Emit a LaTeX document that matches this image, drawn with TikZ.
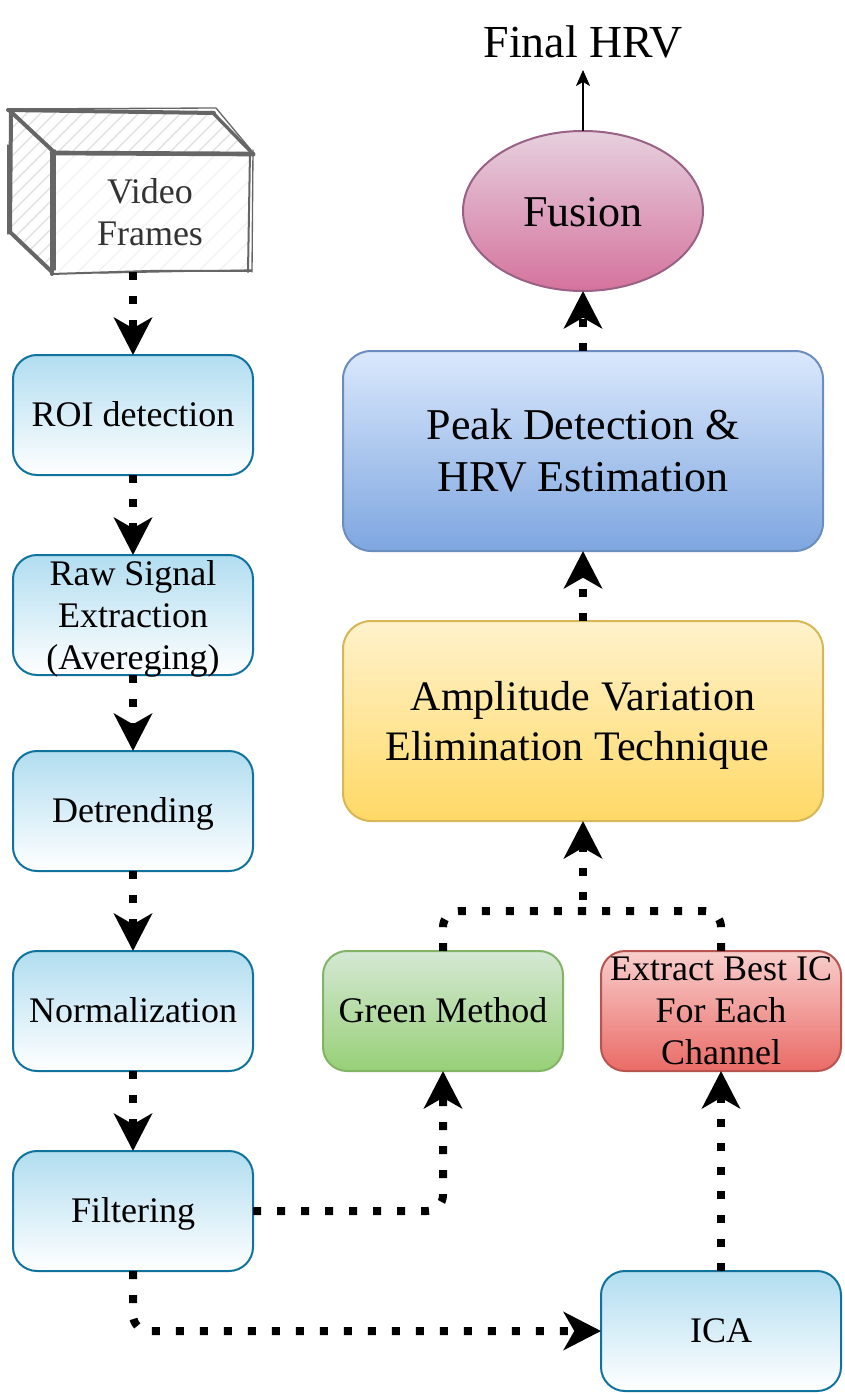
\documentclass[tikz,border=0pt]{standalone}
\usepackage{fontspec}
\setmainfont{Liberation Serif}
\usetikzlibrary{arrows.meta,shapes.geometric}

\definecolor{stepline}{HTML}{10739E}
\definecolor{steptop}{HTML}{B1DDF0}
\definecolor{greenline}{HTML}{82B366}
\definecolor{greentop}{HTML}{D5E8D4}
\definecolor{greenbot}{HTML}{97D077}
\definecolor{redline}{HTML}{B85450}
\definecolor{redtop}{HTML}{F8CECC}
\definecolor{redbot}{HTML}{EA6B66}
\definecolor{ampline}{HTML}{D6B656}
\definecolor{amptop}{HTML}{FFF2CC}
\definecolor{ampbot}{HTML}{FFD966}
\definecolor{peakline}{HTML}{6C8EBF}
\definecolor{peaktop}{HTML}{DAE8FC}
\definecolor{peakbot}{HTML}{7EA6E0}
\definecolor{fusline}{HTML}{996185}
\definecolor{fustop}{HTML}{E6D0DE}
\definecolor{fusbot}{HTML}{D5739D}
\definecolor{sketch}{HTML}{666666}
\definecolor{videotext}{HTML}{333333}

\tikzset{
  box/.style={draw,rectangle,rounded corners=18pt,line width=1.5pt,inner sep=0pt,outer sep=0pt,
    align=center,minimum width=180pt,minimum height=90pt,
    font=\fontsize{27}{31.5}\selectfont},
  oneline/.style={text height=17pt,text depth=0pt},
  stepbox/.style={box,draw=stepline,top color=steptop,bottom color=white},
  greenbox/.style={box,draw=greenline,top color=greentop,bottom color=greenbot},
  redbox/.style={box,draw=redline,top color=redtop,bottom color=redbot},
  bigbox/.style={box,rounded corners=21pt,minimum width=360pt,minimum height=150pt,
    font=\fontsize{33}{39}\selectfont},
  dots/.style={draw=black,line width=6pt,dash pattern=on 6pt off 12pt,rounded corners=12pt},
  flow/.style={dots,-{Stealth[length=28pt,width=28.5pt,inset=8pt]}},
  sketchline/.style={draw=sketch,line width=1.5pt,line cap=round}
}

\begin{document}
\begin{tikzpicture}[x=0.75pt,y=-0.75pt]
\useasboundingbox (0,0) rectangle (844,1394);

% video frames
\begin{scope}
\clip (9,110) -- (212,110) -- (250,152) -- (51,152) -- (51,272) -- (9,232) -- cycle;
\foreach \k in {-200,-186,...,120}
  \draw[gray!25,line width=0.9pt] (\k-10,280) -- (\k+170,100);
\end{scope}
\begin{scope}
\clip (51,152) rectangle (250,272);
\foreach \k in {-120,-100,...,340}
  \draw[gray!12,line width=0.9pt] (\k-10,280) -- (\k+170,100);
\end{scope}
\draw[sketchline,line width=3pt] (8,110) -- (214,113);
\draw[sketchline,line width=1pt] (10,109) -- (216,108) -- (251,150);
\draw[sketchline,line width=2.5pt] (213,113) -- (254,155);
\draw[sketchline,line width=3pt] (9,110) -- (54,152);
\draw[sketchline,line width=3pt] (11,111) -- (10,232) -- (52,272);
\draw[sketchline,line width=1pt] (8,145) -- (8,234);
\draw[sketchline,line width=3.5pt] (52,153) -- (253,154);
\draw[sketchline,line width=3pt] (52,152) -- (52,274);
\draw[sketchline,line width=1pt] (55,150) -- (55,270);
\draw[sketchline] (51,274) -- (150,271) -- (251,271);
\draw[sketchline,line width=1pt] (100,273) -- (252,270);
\draw[sketchline] (250,152) -- (248,272);
\draw[sketchline,line width=1pt] (253,150) -- (252,272);

\node[align=center,text=videotext,font=\fontsize{27}{31.5}\selectfont] (video) at (150,212) {Video\\Frames};
\coordinate (videoout) at (133,272);

% left column
\node[stepbox,oneline] (roi) at (133,415) {ROI detection};
\node[stepbox] (raw) at (133,615) {Raw Signal\\Extraction\\\smash{(Avereging)}};
\node[stepbox,oneline] (detrend) at (133,811) {Detrending};
\node[stepbox,oneline] (norm) at (133,1011) {Normalization};
\node[stepbox,oneline] (filter) at (133,1211) {Filtering};

% right column
\node[stepbox,oneline] (ica) at (721,1331) {ICA};
\node[greenbox,oneline] (green) at (443,1011) {Green Method};
\node[redbox] (best) at (721,1011) {Extract Best IC\\For Each\\Channel};
\node[bigbox,draw=ampline,top color=amptop,bottom color=ampbot,font=\fontsize{31.5}{37.5}\selectfont] (amp) at (583,721) {Amplitude Variation\\\smash{Elimination Technique\hspace{9pt}}};
\node[bigbox,draw=peakline,top color=peaktop,bottom color=peakbot] (peak) at (583,451) {Peak Detection \&\\HRV Estimation};
\node[ellipse,draw=fusline,line width=1.5pt,top color=fustop,bottom color=fusbot,inner sep=0pt,outer sep=0pt,
  minimum width=180pt,minimum height=120pt,text height=24pt,text depth=0pt,font=\fontsize{33}{39}\selectfont] (fusion) at (583,211) {Fusion};
\node[font=\fontsize{34.4}{39}\selectfont,inner sep=0pt] (hrv) at (583,42) {Final HRV};
\coordinate (hrvin) at (583,70);
\coordinate (merge) at (583,911);

\draw[flow] (videoout) -- (roi);
\draw[flow] (roi) -- (raw);
\draw[flow] (raw) -- (detrend);
\draw[flow] (detrend) -- (norm);
\draw[flow] (norm) -- (filter);
\draw[flow] (filter.east) -| (green.south);
\draw[flow] (filter.south) |- (ica.west);
\draw[flow] (ica.north) -- (best.south);
\draw[dots] (green.north) |- (merge);
\draw[dots] (best.north) |- (merge);
\draw[flow,dash phase=9.75pt] (merge) -- (amp.south);
\draw[flow] (amp.north) -- (peak.south);
\draw[flow] (peak.north) -- (fusion.south);
\draw[line width=1.5pt,-{Stealth[length=12pt,width=10.5pt,inset=3pt]}] (fusion.north) -- (hrvin);
\end{tikzpicture}
\end{document}
